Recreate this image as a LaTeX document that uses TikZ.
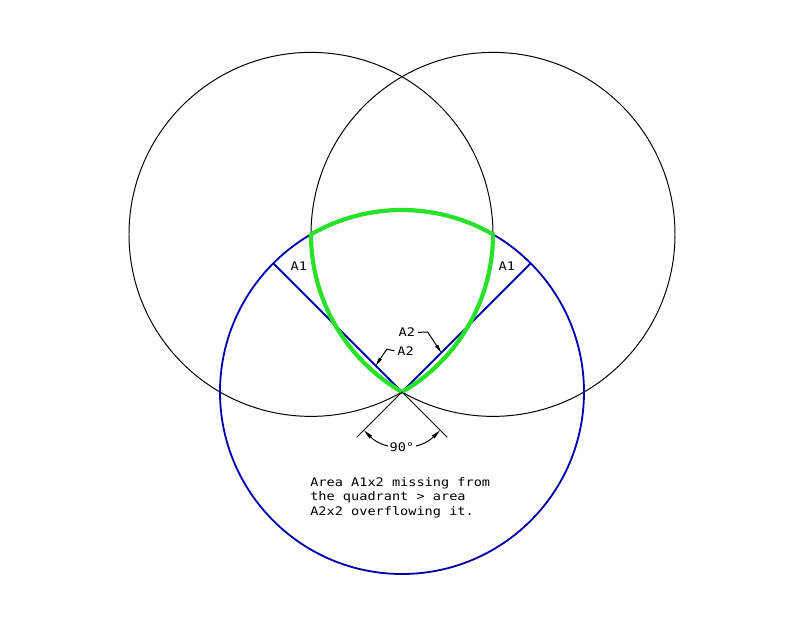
\documentclass[tikz,border=0pt]{standalone}
\usepackage{fontspec}
\newfontfamily\cadfont[FakeStretch=1.15]{DejaVu Sans Mono}
\usetikzlibrary{arrows.meta}
\definecolor{bleu}{RGB}{0,0,170}
\definecolor{vert}{RGB}{40,225,40}

\begin{document}
\begin{tikzpicture}
  \tikzstyle{cercle}=[draw=black, line width=0.7pt]
  \tikzstyle{quadrant}=[draw=bleu, line width=1.3pt]
  \tikzstyle{lentille}=[draw=vert, line width=3pt, line join=round]
  \tikzstyle{cote}=[draw=black, line width=0.7pt,
  {Triangle[length=7pt,width=2.6pt]}-{Triangle[length=7pt,width=2.6pt]}]
  \tikzstyle{fleche}=[draw=black, line width=0.7pt, -{Triangle[length=6pt,width=2.4pt]}]
  \tikzstyle{etiquette}=[font=\cadfont\fontsize{8.4}{10.3}\selectfont, inner sep=0pt, text=black]
  \useasboundingbox (-10.05,-5.675) rectangle (9.95,9.8);
  \def\rayon{4.55}
  \coordinate (O) at (0,0);
  \foreach \n/\a in {g/120,d/60} {
    \coordinate (\n) at (\a:\rayon);
    \draw[cercle] (\n) circle[radius=\rayon];
  }
  \draw[quadrant] (O) circle[radius=\rayon];
  \foreach \n/\a in {qg/135,qd/45} {
    \coordinate (\n) at (\a:\rayon);
    \draw[quadrant] (O) -- (\n);
  }
  \draw[lentille] (d) arc[start angle=60, end angle=120, radius=\rayon]
    arc[start angle=180, end angle=240, radius=\rayon]
    arc[start angle=-60, end angle=0, radius=\rayon] -- cycle;
  % labels A1, A2
  \node[etiquette] (a1g) at (-2.58,3.15) {A1};
  \node[etiquette] (a1d) at (2.62,3.15) {A1};
  \node[etiquette] (a2h) at (0.12,1.49) {A2};
  \node[etiquette] (a2b) at (0.09,1.03) {A2};
  \coordinate (ph) at (45:1.39);
  \coordinate (pb) at (135:0.93);
  \draw[fleche] ([xshift=2pt]a2h.east) -- (0.64,1.5) -- (ph);
  \draw[fleche] ([xshift=-2pt]a2b.west) -- (-0.38,1.07) -- (pb);
  % angle 90
  \foreach \n/\a in {eg/225,ed/315} {
    \coordinate (\n) at (\a:1.6);
    \draw[cercle] (O) -- (\n);
  }
  \draw[cote] (225:1.35) arc[start angle=225, end angle=315, radius=1.35];
  \node[etiquette, fill=white, inner sep=1.5pt] (angle) at (270:1.37) {90°};
  \node[etiquette, align=left, anchor=north west] (note) at (-2.3,-2.12)
    {Area A1x2 missing from\\the quadrant > area\\A2x2 overflowing it.};
\end{tikzpicture}
\end{document}
